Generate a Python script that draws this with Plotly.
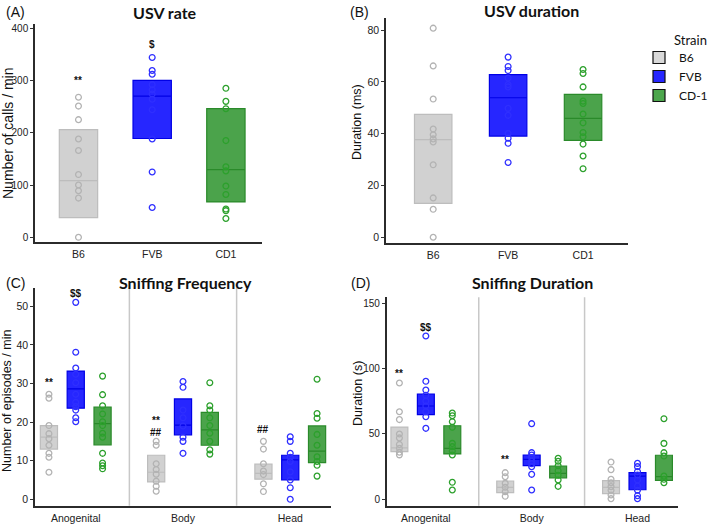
import plotly.graph_objects as go

# ---------------- data ----------------
strains = ["B6", "FVB", "CD-1"]
usv_categories = ["B6", "FVB", "CD1"]
sniff_regions = ["Anogenital", "Body", "Head"]

# Panel A: USV rate (calls / min)
rate_b6 = [268, 251, 225, 188, 166, 120, 100, 89, 75, 0]
rate_fvb = [344, 319, 312, 292, 282, 274, 264, 244, 188, 125, 57]
rate_cd1 = [285, 260, 246, 185, 135, 127, 98, 82, 54, 51, 36]
rate_box = [[37.7, 108.5, 206], [189, 270, 300], [67.6, 129.6, 246]]  # q1, median, q3 per strain

# Panel B: USV duration (ms)
dur_b6 = [80.8, 66.2, 53.4, 41.8, 39.6, 38, 36.8, 28, 15.2, 10.8, 0]
dur_fvb = [69.6, 66, 64.4, 61.5, 59, 58.1, 49.8, 47.1, 40.1, 38.3, 36.3, 28.9]
dur_cd1 = [64.8, 63.3, 58.1, 52.6, 51.7, 47.6, 44.2, 40.5, 38.8, 36, 31.4, 26.5]
dur_box = [[13.1, 37.7, 47.5], [39.1, 53.9, 62.8], [37.4, 45.9, 55.2]]

# Panel C: sniffing frequency (episodes / min), per region: Anogenital, Body, Head
freq_b6 = [[27.2, 26.2, 19.1, 17.0, 15.7, 14.0, 11.9, 10.9, 7.0],
           [15.0, 14.0, 9.2, 7.7, 6.5, 4.7, 3.4, 2.1],
           [15.0, 13.0, 9.2, 7.3, 6.4, 4.0, 2.0]]
freq_fvb = [[51.0, 38.1, 34.0, 32.4, 30.2, 27.2, 25.1, 24.0, 23.1, 21.1, 20.1],
            [30.5, 29.0, 23.1, 21.1, 19.0, 16.1, 15.0, 11.9],
            [16.2, 15.0, 11.9, 10.9, 9.8, 7.1, 5.0, 3.0, 0.0]]
freq_cd1 = [[31.9, 27.1, 24.2, 22.1, 20.1, 19.1, 17.1, 16.1, 11.9, 9.4, 8.7, 7.9],
            [30.2, 24.2, 23.1, 21.1, 19.1, 17.1, 15.0, 12.8, 11.7],
            [31.1, 22.2, 21.0, 16.8, 14.0, 11.0, 9.8, 8.8, 6.0]]
freq_box_b6 = [[13.0, 16.1, 19.1], [4.5, 7.0, 11.4], [5.2, 6.7, 9.1]]
freq_box_fvb = [[23.6, 28.6, 33.2], [16.7, 19.2, 26.0], [5.0, 10.2, 11.4]]
freq_box_cd1 = [[14.1, 19.6, 23.9], [14.0, 18.0, 22.5], [9.5, 12.5, 19.0]]

# Panel D: sniffing duration (s)
sdur_b6 = [[89, 67, 61, 50, 47, 42, 39, 36, 34],
           [20.4, 17.3, 12.2, 9.2, 5.8, 2.3],
           [28.5, 22.7, 15.3, 12.7, 9.7, 6.9, 3.3, 0.5]]
sdur_fvb = [[125, 90.3, 83.6, 79.6, 75.2, 71.4, 67.1, 63.2, 54.3],
            [57.9, 35.7, 33.9, 31.9, 29.3, 27.3, 25.0, 19.1, 7.1],
            [27.5, 25.0, 21.2, 18.6, 14.8, 10.2, 6.9, 2.8, 0.5]]
sdur_cd1 = [[66.0, 64.0, 59.4, 55.1, 42.8, 40.3, 37.0, 33.9, 13.0, 7.1],
            [31.4, 29.1, 25.7, 21.9, 18.4, 14.8, 9.9],
            [61.7, 42.8, 35.7, 33.1, 17.8, 15.3, 12.7]]
sdur_box_b6 = [[36.5, 39.3, 55.3], [5.1, 9.2, 14.0], [4.3, 9.2, 14.3]]
sdur_box_fvb = [[64.8, 71.4, 80.6], [25.7, 30.6, 33.9], [7.3, 17.8, 20.4]]
sdur_box_cd1 = [[34.7, 39.0, 56.3], [16.3, 19.9, 25.5], [14.5, 17.3, 33.7]]

# significance marks: (panel, strain index, region index, y, text)
sig_marks = [
    ("A", 0, 0, 300, "**"), ("A", 1, 0, 369, "$"),
    ("B", 0, 0, 85.5, "*"),
    ("C", 0, 0, 30.3, "**"), ("C", 1, 0, 53.2, "$$"),
    ("C", 0, 1, 20.5, "**"), ("C", 0, 1, 17.3, "##"), ("C", 0, 2, 18.1, "##"),
    ("D", 0, 0, 96.4, "**"), ("D", 1, 0, 131.6, "$$"), ("D", 0, 1, 30.8, "**"),
]

# ---------------- styles ----------------
fills = ["rgba(185,185,185,0.65)", "rgba(0,0,255,0.85)", "rgba(30,140,30,0.8)"]
borders = ["#bdbdbd", "#0000e6", "#2a8a2a"]
point_cols = ["#b3b3b3", "#2f2fff", "#2ca02c"]
legend_fills = ["#d9d9d9", "#2626ff", "#4ca64c"]

W, H = 709, 525
def px(x):
    return x / W
def py(y):
    return 1 - y / H

fig = go.Figure()

AX = {"A": ("x", "y"), "B": ("x2", "y2"), "C": ("x3", "y3"), "D": ("x4", "y4")}
group_offsets = [-0.25, 0.0, 0.25]


def add_group(panel, positions, boxes, points, si, width):
    xa, ya = AX[panel]
    fig.add_trace(go.Box(
        x=positions, q1=[b[0] for b in boxes], median=[b[1] for b in boxes],
        q3=[b[2] for b in boxes], lowerfence=[b[0] for b in boxes],
        upperfence=[b[2] for b in boxes], width=width, whiskerwidth=0,
        fillcolor=fills[si], line=dict(color=borders[si], width=1.2),
        boxpoints=False, showlegend=False, xaxis=xa, yaxis=ya, name=strains[si]))
    xs, ys = [], []
    for p, pts in zip(positions, points):
        xs += [p] * len(pts)
        ys += pts
    fig.add_trace(go.Scatter(
        x=xs, y=ys, mode="markers", showlegend=False, xaxis=xa, yaxis=ya,
        marker=dict(symbol="circle-open", size=5.8, color=point_cols[si],
                    line=dict(width=1.3, color=point_cols[si])),
        name=strains[si]))


# Panels A and B
for si, (pts, box) in enumerate(zip([rate_b6, rate_fvb, rate_cd1], rate_box)):
    add_group("A", [si + 1], [box], [pts], si, 0.52)
for si, (pts, box) in enumerate(zip([dur_b6, dur_fvb, dur_cd1], dur_box)):
    add_group("B", [si + 1], [box], [pts], si, 0.5)

# Panels C and D
for si, (pts, box) in enumerate(zip([freq_b6, freq_fvb, freq_cd1],
                                    [freq_box_b6, freq_box_fvb, freq_box_cd1])):
    pos = [r + 1 + group_offsets[si] for r in range(len(sniff_regions))]
    add_group("C", pos, box, pts, si, 0.16)
for si, (pts, box) in enumerate(zip([sdur_b6, sdur_fvb, sdur_cd1],
                                    [sdur_box_b6, sdur_box_fvb, sdur_box_cd1])):
    pos = [r + 1 + group_offsets[si] for r in range(len(sniff_regions))]
    add_group("D", pos, box, pts, si, 0.16)

# legend entries
for si, s in enumerate(strains):
    fig.add_trace(go.Bar(x=[None], y=[None], name=s, xaxis="x", yaxis="y",
                         marker=dict(color=legend_fills[si], line=dict(color="#111", width=1.2)),
                         showlegend=True))

annotations = []
for panel, si, ri, yv, txt in sig_marks:
    xa, ya = AX[panel]
    xv = si + 1 if panel in ("A", "B") else ri + 1 + group_offsets[si]
    annotations.append(dict(x=xv, y=yv, xref=xa, yref=ya, text="<b>%s</b>" % txt,
                            showarrow=False, font=dict(size=10, color="#111",
                                                       family="Liberation Sans")))

TXT = "Liberation Sans"
TITLE = "Lato"
def ann(x, y, text, size, family=TXT, bold=False, angle=0, xanchor="center"):
    annotations.append(dict(x=px(x), y=py(y), xref="paper", yref="paper",
                            text=("<b>%s</b>" % text) if bold else text,
                            showarrow=False, textangle=angle, xanchor=xanchor,
                            yanchor="middle",
                            font=dict(size=size, family=family, color="#111")))

# panel letters
ann(4, 12, "(A)", 14, xanchor="left")
ann(348, 12, "(B)", 14, xanchor="left")
ann(4, 283, "(C)", 14, xanchor="left")
ann(349, 283, "(D)", 14, xanchor="left")
# titles
ann(165, 12, "USV rate", 16, TITLE, bold=True)
ann(531, 10, "USV duration", 16, TITLE, bold=True)
ann(185, 282, "Sniffing Frequency", 16, TITLE, bold=True)
ann(532, 282, "Sniffing Duration", 16, TITLE, bold=True)
# y-axis titles
ann(8, 134, "Number of calls / min", 14, angle=-90)
ann(357, 122, "Duration (ms)", 12.5, angle=-90)
ann(7, 401, "Number of episodes / min", 12.5, angle=-90)
ann(358, 394, "Duration (s)", 12.5, angle=-90)
# legend title
ann(672, 40, "Strain", 13, TITLE, xanchor="left")

shapes = []
for xa, ya in [("x3", "y3"), ("x4", "y4")]:
    for sep in [1.5, 2.5]:
        shapes.append(dict(type="line", xref=xa, yref=ya + " domain", x0=sep, x1=sep,
                           y0=0, y1=1, line=dict(color="#c8c8c8", width=1.5)))

axis_common = dict(showgrid=False, zeroline=False, showline=True, linecolor="#2b2b2b",
                   linewidth=1.5, automargin=False, layer="above traces",
                   tickfont=dict(size=11, color="#222", family=TXT))
xcommon = dict(axis_common, ticks="outside", ticklen=2, tickcolor="rgba(0,0,0,0)",
               tickvals=[1, 2, 3])
ycommon = dict(axis_common, ticks="outside", ticklen=3, tickcolor="#333", tickwidth=1.2)

def tf(size):
    return dict(size=size, color="#222", family=TXT)

fig.update_layout(
    width=W, height=H, margin=dict(l=0, r=0, t=0, b=0, autoexpand=False),
    paper_bgcolor="white", plot_bgcolor="white",
    xaxis=dict(xcommon, domain=[px(35), px(262)], range=[0.41, 3.49], anchor="y",
               ticktext=usv_categories, tickfont=tf(10.5)),
    yaxis=dict(ycommon, domain=[py(242), py(24)], range=[-9, 408], anchor="x",
               tickvals=[0, 100, 200, 300, 400], tickfont=tf(10)),
    xaxis2=dict(xcommon, domain=[px(386), px(628)], range=[0.37, 3.6], anchor="y2",
                ticktext=usv_categories, tickfont=tf(10.5)),
    yaxis2=dict(ycommon, domain=[py(242.7), py(18.3)], range=[-2.1, 84.6], anchor="x2",
                tickvals=[0, 20, 40, 60, 80], tickfont=tf(10.5)),
    xaxis3=dict(xcommon, domain=[px(35), px(331)], range=[0.62, 3.38], anchor="y3",
                ticktext=sniff_regions, tickfont=tf(10.5)),
    yaxis3=dict(ycommon, domain=[py(505.7), py(287.7)], range=[-1.66, 54.8], anchor="x3",
                tickvals=[0, 10, 20, 30, 40, 50], tickfont=tf(10.5)),
    xaxis4=dict(xcommon, domain=[px(386.7), px(677.7)], range=[0.63, 3.38], anchor="y4",
                ticktext=sniff_regions, tickfont=tf(10.5)),
    yaxis4=dict(ycommon, domain=[py(505.7), py(297.3)], range=[-4.9, 154.6], anchor="x4",
                tickvals=[0, 50, 100, 150], tickfont=tf(10)),
    showlegend=True,
    legend=dict(x=px(639), y=py(43), xanchor="left", yanchor="top",
                font=dict(size=12, family=TITLE, color="#111"),
                bgcolor="rgba(0,0,0,0)", itemclick=False),
    annotations=annotations, shapes=shapes,
)

fig.write_html("out.html", config={"displayModeBar": False},
               post_script="document.body.style.margin='0px';")
